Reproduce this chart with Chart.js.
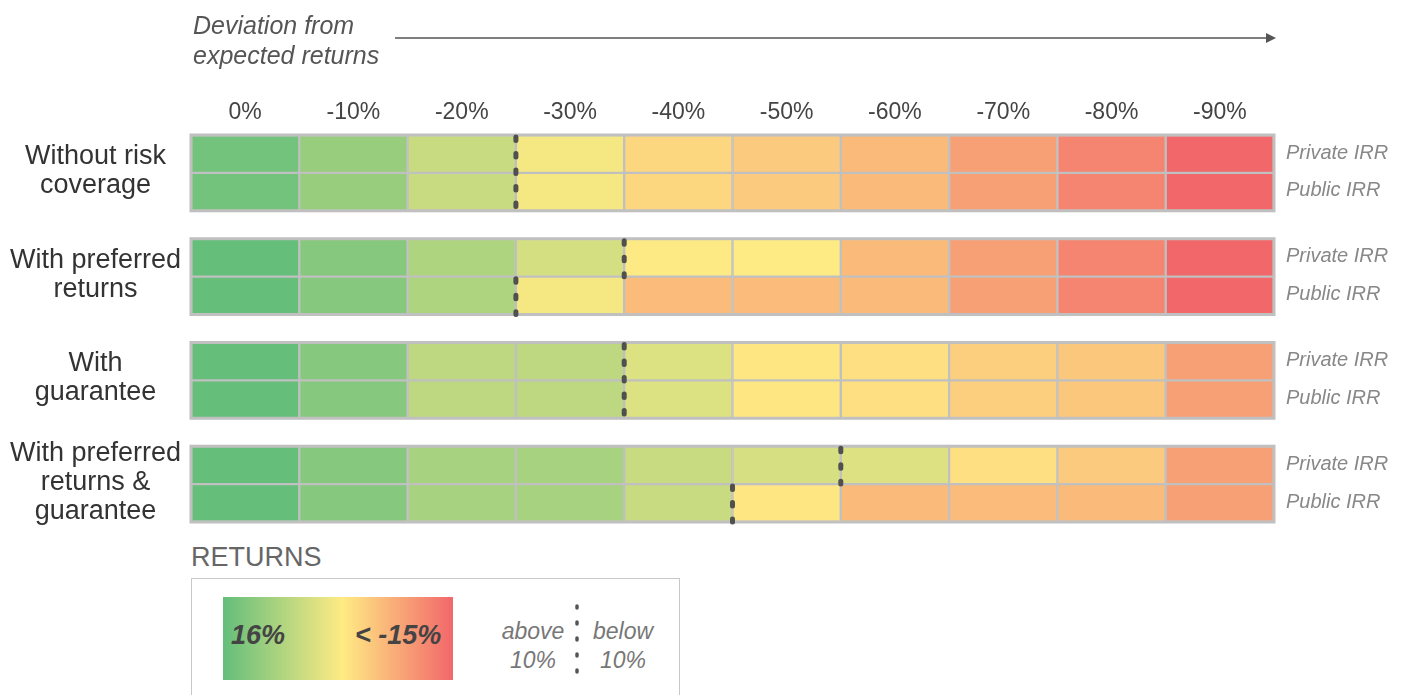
<!DOCTYPE html>
<html>
<head>
<meta charset="utf-8">
<script src="https://cdn.jsdelivr.net/npm/chart.js@4/dist/chart.umd.min.js"></script>
<style>
    body { margin: 0; background: #fff; font-family: 'Liberation Sans', sans-serif; }
    #page { position: relative; width: 1404px; height: 695px; overflow: hidden; }
    #chartBox { position: absolute; left: 0; top: 0; width: 1404px; height: 535px; }
    .axisTitle { position: absolute; left: 193px; top: 10px; font-size: 25px; font-style: italic; color: #555; line-height: 30px; }
    #arrow { position: absolute; left: 0; top: 0; }
    .legendTitle { position: absolute; left: 191px; top: 542px; font-size: 27px; color: #666; }
    .legendBox { position: absolute; left: 191px; top: 578px; width: 487px; height: 140px; border: 1px solid #c8c8c8; }
    .gradient { position: absolute; left: 223px; top: 597px; width: 230px; height: 83px; }
    .gradLabel { position: absolute; top: 620px; font-size: 27px; font-weight: bold; font-style: italic; color: #444; }
    .markLabel { position: absolute; top: 617px; font-size: 23px; font-style: italic; color: #777; text-align: center; line-height: 29px; }
</style>
</head>
<body>
<div id="page">
    <div id="chartBox"><canvas id="heatChart"></canvas></div>
    <div class="axisTitle">Deviation from<br>expected returns</div>
    <svg id="arrow" width="1404" height="60">
        <line x1="395" y1="38" x2="1268" y2="38" stroke="#555" stroke-width="1.5"/>
        <polygon points="1276,38 1266,33 1266,43" fill="#555"/>
    </svg>
    <div class="legendTitle">RETURNS</div>
    <div class="legendBox"></div>
    <div class="gradient" id="gradient"></div>
    <div class="gradLabel" style="left:231px">16%</div>
    <div class="gradLabel" style="left:355px">&lt; -15%</div>
    <div class="markLabel" style="left:495px; width:76px">above<br>10%</div>
    <div class="markLabel" style="left:585px; width:76px">below<br>10%</div>
    <svg style="position:absolute;left:570px;top:600px" width="14" height="80">
        <line x1="7" y1="6" x2="7" y2="74" stroke="#555" stroke-width="3.5" stroke-linecap="round" stroke-dasharray="2 14"/>
    </svg>
</div>
<script>
// Colonnes : écart par rapport aux rendements attendus
const columns = ['0%', '-10%', '-20%', '-30%', '-40%', '-50%', '-60%', '-70%', '-80%', '-90%'];
const groupLabels = [
    ['Without risk', 'coverage'],
    ['With preferred', 'returns'],
    ['With', 'guarantee'],
    ['With preferred', 'returns &', 'guarantee']
];
const seriesLabels = ['Private IRR', 'Public IRR'];

// Rendements (%) estimés pour chaque case
const withoutRiskPrivate = [15.2, 13.3, 10.8, 8.5, 4.6, 2.3, -0.5, -5.3, -9.7, -15];
const withoutRiskPublic = [15.2, 13.3, 10.8, 8.5, 4.6, 2.3, -0.5, -5.3, -9.7, -15];
const preferredPrivate = [15.9, 14.2, 12.1, 10.2, 8.1, 8.0, -0.5, -5.3, -9.7, -15];
const preferredPublic = [15.9, 14.2, 12.1, 8.5, -0.3, -0.4, -0.5, -5.3, -9.7, -15];
const guaranteePrivate = [15.9, 14.2, 11.4, 11.4, 9.8, 7.1, 6.0, 3.2, 1.8, -5.3];
const guaranteePublic = [15.9, 14.2, 11.4, 11.4, 9.8, 7.1, 6.0, 3.2, 1.8, -5.3];
const bothPrivate = [15.9, 14.2, 12.5, 12.5, 10.8, 10.1, 9.7, 6.0, 2.3, -5.3];
const bothPublic = [15.9, 14.2, 12.5, 12.5, 10.8, 7.1, -0.5, -0.4, -0.5, -5.3];

const rows = [
    withoutRiskPrivate, withoutRiskPublic,
    preferredPrivate, preferredPublic,
    guaranteePrivate, guaranteePublic,
    bothPrivate, bothPublic
];

const threshold = 10;
const scaleMax = 16, scaleMid = 8, scaleMin = -15;
const green = [99, 190, 123], yellow = [255, 235, 132], red = [242, 103, 106];

// hauteur de l'espace entre groupes, en hauteurs de ligne
const gapRatio = 0.737;
const groupPitch = 2 + gapRatio;
const yMax = 4 * 2 + 3 * gapRatio;

function rowCenter(i) {
    return Math.floor(i / 2) * groupPitch + (i % 2) + 0.5;
}

function mix(a, b, t) {
    return 'rgb(' + a.map((v, k) => Math.round(v + (b[k] - v) * t)).join(',') + ')';
}

function returnColor(v) {
    v = Math.max(scaleMin, Math.min(scaleMax, v));
    if (v >= scaleMid) return mix(yellow, green, (v - scaleMid) / (scaleMax - scaleMid));
    return mix(yellow, red, (scaleMid - v) / (scaleMid - scaleMin));
}

document.getElementById('gradient').style.background =
    'linear-gradient(to right, rgb(' + green.join(',') + ') 0%, rgb(' + yellow.join(',') + ') 52%, rgb(' + red.join(',') + ') 100%)';

const datasets = columns.map((col, c) => ({
    label: col,
    data: rows.map((r, i) => ({ x: [c, c + 1], y: rowCenter(i) })),
    backgroundColor: rows.map(r => returnColor(r[c])),
    borderColor: '#c0c0c0',
    borderWidth: 1.5,
    borderSkipped: false,
    grouped: false,
    barPercentage: 1,
    categoryPercentage: 1
}));

const fontFamily = "'Liberation Sans', sans-serif";

// Libellés des lignes, traits pointillés (passage sous 10%) et contour des groupes
const overlayPlugin = {
    id: 'overlay',
    afterDatasetsDraw(chart) {
        const { ctx, scales: { x, y } } = chart;
        ctx.save();
        ctx.strokeStyle = '#c0c0c0';
        ctx.lineWidth = 3;
        for (let g = 0; g < 4; g++) {
            const top = y.getPixelForValue(g * groupPitch);
            const bottom = y.getPixelForValue(g * groupPitch + 2);
            ctx.strokeRect(x.left, top, x.right - x.left, bottom - top);
        }

        const cuts = rows.map(r => r.findIndex(v => v < threshold));
        ctx.strokeStyle = '#505050';
        ctx.lineWidth = 5;
        ctx.lineCap = 'round';
        ctx.setLineDash([3.5, 13]);
        let i = 0;
        while (i < rows.length) {
            let j = i;
            if (i % 2 === 0 && cuts[i + 1] === cuts[i]) j = i + 1;
            const px = x.getPixelForValue(cuts[i]);
            ctx.beginPath();
            ctx.moveTo(px, y.getPixelForValue(rowCenter(i) - 0.5) + 2);
            ctx.lineTo(px, y.getPixelForValue(rowCenter(j) + 0.5));
            ctx.stroke();
            i = j + 1;
        }
        ctx.setLineDash([]);

        ctx.textBaseline = 'middle';
        ctx.textAlign = 'center';
        ctx.fillStyle = '#333';
        ctx.font = '27px ' + fontFamily;
        groupLabels.forEach((lines, g) => {
            const cy = y.getPixelForValue(g * groupPitch + 1) - 2;
            lines.forEach((t, k) => {
                ctx.fillText(t, x.left / 2, cy + (k - (lines.length - 1) / 2) * 29);
            });
        });

        ctx.textAlign = 'left';
        ctx.fillStyle = '#888';
        ctx.font = 'italic 20px ' + fontFamily;
        rows.forEach((r, i) => {
            ctx.fillText(seriesLabels[i % 2], x.right + 12, y.getPixelForValue(rowCenter(i)) - 1);
        });
        ctx.restore();
    }
};

new Chart(document.getElementById('heatChart').getContext('2d'), {
    type: 'bar',
    data: { datasets: datasets },
    options: {
        indexAxis: 'y',
        responsive: true,
        maintainAspectRatio: false,
        animation: false,
        layout: { padding: { top: 88, bottom: 13, left: 191, right: 130 } },
        scales: {
            x: {
                type: 'linear',
                position: 'top',
                min: 0,
                max: columns.length,
                grid: { display: false, drawTicks: false },
                border: { display: false },
                afterBuildTicks: axis => { axis.ticks = columns.map((c, k) => ({ value: k + 0.5 })); },
                afterFit: axis => { axis.height = 47; },
                ticks: {
                    padding: 9,
                    color: '#444',
                    font: { family: fontFamily, size: 23 },
                    callback: (v, k) => columns[k]
                }
            },
            y: {
                type: 'linear',
                display: false,
                offset: false,
                reverse: true,
                min: 0,
                max: yMax,
                afterBuildTicks: axis => { axis.ticks = rows.map((r, i) => ({ value: rowCenter(i) })); }
            }
        },
        plugins: {
            legend: { display: false },
            tooltip: {
                callbacks: {
                    title: items => columns[items[0].datasetIndex],
                    label: item => seriesLabels[item.dataIndex % 2] + ': ' + rows[item.dataIndex][item.datasetIndex] + '%'
                }
            }
        }
    },
    plugins: [overlayPlugin]
});
</script>
</body>
</html>
